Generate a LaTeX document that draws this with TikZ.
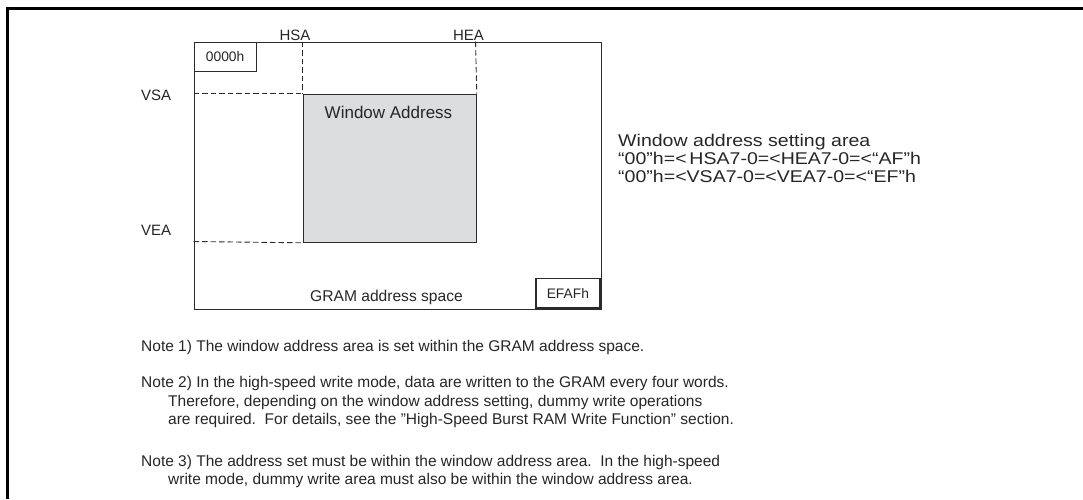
\documentclass[tikz,border=0pt]{standalone}
\usepackage{fontspec}
\setmainfont{Liberation Sans}
\newfontfamily\sidefont{Liberation Sans}[FakeStretch=1.15]
\definecolor{lnc}{HTML}{2B2B2B}
\definecolor{winfill}{HTML}{DCDDDF}
\definecolor{txc}{HTML}{262626}
\begin{document}
\begin{tikzpicture}[x=1pt,y=-1pt,
  box/.style={draw=lnc,line width=1.3pt},
  guide/.style={draw=lnc,line width=0.9pt,dash pattern=on 5.5pt off 3pt},
  lbl/.style={font=\fontsize{15}{17}\selectfont,text=txc,inner sep=0pt,anchor=base},
  note/.style={font=\fontsize{15.5}{18}\selectfont,text=txc,inner sep=0pt,anchor=base west},
  side/.style={font=\sidefont\fontsize{17}{18}\selectfont,text=txc,inner sep=0pt,anchor=base west},
  ]
\useasboundingbox (0,0) rectangle (1083,499);
\draw[line width=3pt,black] (7.5,499) -- (7.5,8.5) -- (1083,8.5);
% GRAM space
\node[box,minimum width=407pt,minimum height=267pt,anchor=north west,inner sep=0pt] (gram) at (193.5,41.5) {};
\node[box,minimum width=62pt,minimum height=29pt,anchor=north west,inner sep=0pt,font=\fontsize{13.8}{15}\selectfont,text=txc] (start) at (193.5,41.5) {0000h};
\node[box,minimum width=64pt,minimum height=29.5pt,anchor=south east,inner sep=0pt,font=\fontsize{13.8}{15}\selectfont,text=txc] (end) at (600.5,308.5) {EFAFh};
% window
\node[box,fill=winfill,minimum width=173pt,minimum height=148pt,anchor=north west,inner sep=0pt] (win) at (302.5,93.5) {};
\node[lbl,font=\fontsize{17}{19}\selectfont] (wintxt) at (388.5,118) {Window Address};
\node[lbl,font=\fontsize{15.6}{17}\selectfont] (gramtxt) at (386.5,301) {GRAM address space};
% guides
\coordinate (hsatop) at (302.5,41.5);
\coordinate (heatop) at (475.5,41.5);
\coordinate (vsal) at (193.5,93.5);
\coordinate (veal) at (193.5,241.5);
\draw[guide] (hsatop) -- (win.north west);
\draw[guide] (heatop) -- (win.north east);
\draw[guide] (vsal) -- (win.north west);
\draw[guide] (veal) -- (win.south west);
\node[lbl] (hsa) at (295,40) {HSA};
\node[lbl] (hea) at (468.5,40) {HEA};
\node[lbl,anchor=base west] (vsa) at (141,100) {VSA};
\node[lbl,anchor=base west] (vea) at (141,235) {VEA};
% right text
\node[side] (area1) at (618,146) {Window address setting area};
\node[side] (area2) at (618,164) {“00”h=<\,HSA7-0=<HEA7-0=<“AF”h};
\node[side] (area3) at (618,182) {“00”h=<VSA7-0=<VEA7-0=<“EF”h};
% notes
\node[note] (n1) at (141,351) {Note 1) The window address area is set within the GRAM address space.};
\node[note] (n2a) at (141,387.5) {Note 2) In the high-speed write mode, data are written to the GRAM every four words.};
\node[note] (n2b) at (168,406) {Therefore, depending on the window address setting, dummy write operations};
\node[note] (n2c) at (168,424.5) {are required.\ \ For details, see the "High-Speed Burst RAM Write Function" section.};
\node[note] (n3a) at (141,466) {Note 3) The address set must be within the window address area.\ \ In the high-speed};
\node[note] (n3b) at (168,484.5) {write mode, dummy write area must also be within the window address area.};
\end{tikzpicture}
\end{document}
